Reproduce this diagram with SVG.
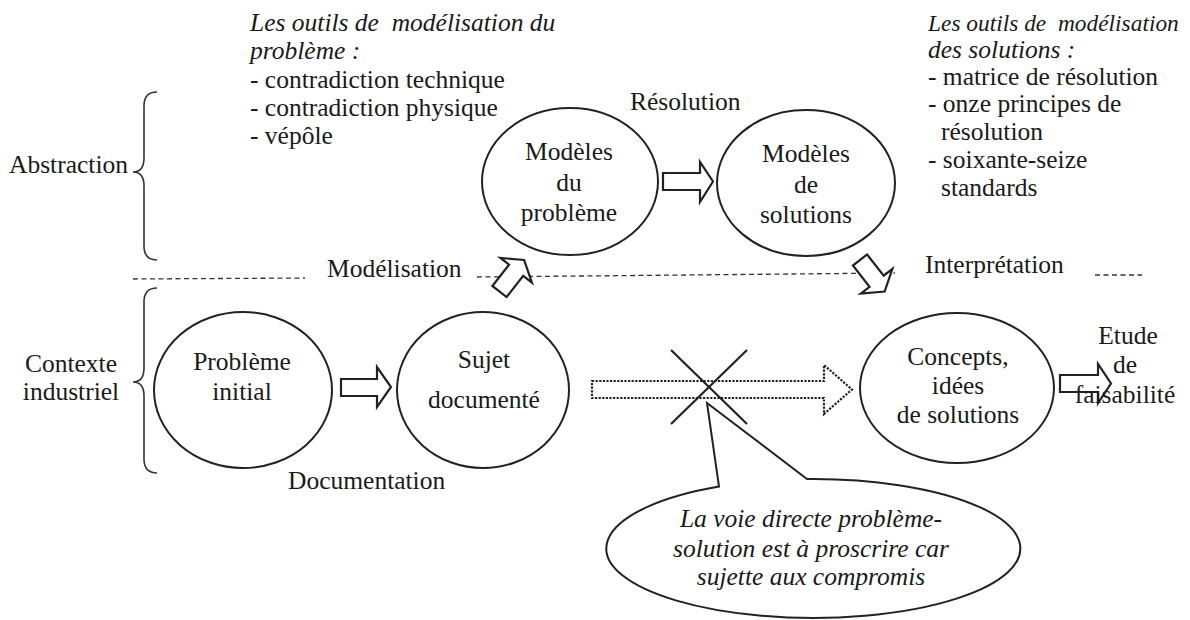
<svg xmlns="http://www.w3.org/2000/svg" width="1190" height="620" viewBox="0 0 1190 620" font-family="Liberation Serif, DejaVu Serif, serif">
<style>
text{font-family:'Liberation Serif','DejaVu Serif',serif;font-size:25.5px;fill:#1a1a1a}
.it{font-style:italic}
.c{text-anchor:middle}
.pre{white-space:pre}
.node{fill:#fff;stroke:#222;stroke-width:2}
.brace{fill:none;stroke:#333;stroke-width:1.6}
.dash{fill:none;stroke:#333;stroke-width:1.3;stroke-dasharray:5 3.5}
.arrow{fill:#fff;stroke:#222;stroke-width:2.2;stroke-linejoin:miter}
.dots{fill:#fff;stroke:#222;stroke-width:2.2;stroke-dasharray:2.2 1.4}
.cross{stroke:#222;stroke-width:2.2}
</style>
<defs>
<path id="tilt" d="M0,-9 L27,-9 L27,-20 L40,0 L27,20 L27,9 L0,9 Z"/>
</defs>
<rect width="1190" height="620" fill="#fff"/>

<g id="levels">
  <path class="dash" d="M133,279 L305,278"/>
  <path class="dash" d="M477,277 L895,273"/>
  <path class="dash" d="M1095,275 L1142,275"/>
</g>

<g id="n-abstraction">
  <path class="brace" d="M157,92 Q144,92 144,106 L144,158 Q144,172 133,172 Q144,172 144,186 L144,246 Q144,260 157,260"/>
  <text x="9" y="173">Abstraction</text>
</g>
<g id="n-contexte">
  <path class="brace" d="M157,288 Q144,288 144,302 L144,368 Q144,382 133,382 Q144,382 144,396 L144,459 Q144,473 157,473"/>
  <text class="c" x="71" y="372">Contexte</text>
  <text class="c" x="71" y="400">industriel</text>
</g>

<g id="n-tools-pb">
  <text class="it pre" x="250" y="31">Les outils de  modélisation du</text>
  <text class="it" x="250" y="59">problème :</text>
  <text x="250" y="88">- contradiction technique</text>
  <text x="250" y="116">- contradiction physique</text>
  <text x="250" y="144">- vépôle</text>
</g>
<g id="n-tools-sol">
  <text class="it pre" x="928" y="31" style="font-size:23.4px">Les outils de  modélisation</text>
  <text class="it" x="928" y="58">des solutions :</text>
  <text x="928" y="85">- matrice de résolution</text>
  <text x="928" y="112">- onze principes de</text>
  <text x="941" y="140">résolution</text>
  <text x="928" y="168">- soixante-seize</text>
  <text x="941" y="196">standards</text>
</g>

<g id="n-probleme">
  <ellipse class="node" cx="243" cy="390" rx="89" ry="78"/>
  <text class="c" x="242" y="370">Problème</text>
  <text class="c" x="242" y="400">initial</text>
</g>
<g id="n-sujet">
  <ellipse class="node" cx="483" cy="390" rx="86" ry="78"/>
  <text class="c" x="484" y="368">Sujet</text>
  <text class="c" x="484" y="408">documenté</text>
</g>
<g id="n-modeles-pb">
  <ellipse class="node" cx="570" cy="181.5" rx="88" ry="73.5"/>
  <text class="c" x="569" y="160">Modèles</text>
  <text class="c" x="569" y="191">du</text>
  <text class="c" x="569" y="221">problème</text>
</g>
<g id="n-modeles-sol">
  <ellipse class="node" cx="806" cy="183" rx="89" ry="73"/>
  <text class="c" x="806" y="162">Modèles</text>
  <text class="c" x="806" y="193">de</text>
  <text class="c" x="806" y="223">solutions</text>
</g>
<g id="n-concepts">
  <ellipse class="node" cx="957" cy="388" rx="97" ry="75"/>
  <text class="c" x="958" y="365">Concepts,</text>
  <text class="c" x="958" y="394">idées</text>
  <text class="c" x="958" y="423">de solutions</text>
</g>

<g id="connectors">
  <path class="arrow" d="M341,379 L377,379 L377,367 L391,387 L377,407 L377,396 L341,396 Z"/>
  <path class="arrow" d="M663,173 L700,173 L700,162 L713,181.5 L700,202 L700,190 L663,190 Z"/>
  <use href="#tilt" class="arrow" transform="translate(499.5,291.5) rotate(-52)"/>
  <use href="#tilt" class="arrow" transform="translate(860,260) rotate(52)"/>
  <path class="arrow" d="M1060,375 L1098,375 L1098,364 L1111,383.5 L1098,403 L1098,392 L1060,392 Z"/>
  <path class="dots" d="M592,381 L824,381 L824,365 L852,389.5 L824,414 L824,398 L592,398 Z"/>
  <line class="cross" x1="671" y1="350" x2="747" y2="424"/>
  <line class="cross" x1="747" y1="350" x2="671" y2="424"/>
  <text x="327" y="277">Modélisation</text>
  <text x="630" y="110">Résolution</text>
  <text x="925" y="273">Interprétation</text>
  <text x="288" y="489">Documentation</text>
</g>

<g id="n-etude">
  <text class="c" x="1128" y="344">Etude</text>
  <text class="c" x="1125" y="373">de</text>
  <text class="c" x="1125" y="403">faisabilité</text>
</g>

<g id="n-callout">
  <path class="node" d="M719,486.6 L707,403 L807,479 A207,69.5 0 1 1 719,486.6 Z"/>
  <text class="it c" x="811" y="527">La voie directe problème-</text>
  <text class="it c" x="811" y="557">solution est à proscrire car</text>
  <text class="it c" x="811" y="585">sujette aux compromis</text>
</g>
</svg>
